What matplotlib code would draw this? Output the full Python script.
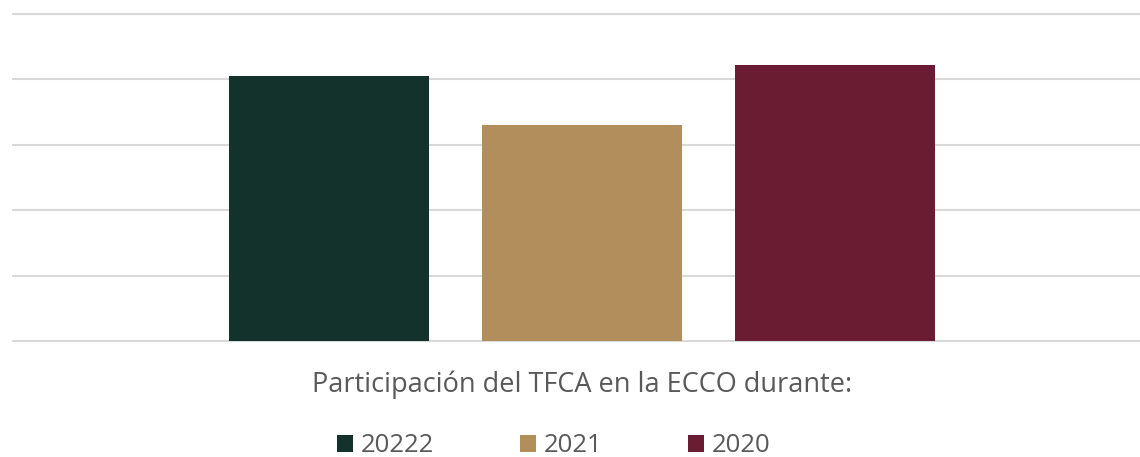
import matplotlib.pyplot as plt

# Datos de la gráfica (en unidades de la cuadrícula)
series = ['20222', '2021', '2020']
valores = [4.05, 3.30, 4.22]
colores = ['#13322b', '#b38e5d', '#691c32']
titulo = 'Participación del TFCA en la ECCO durante:'

W, H = 1140, 457
fig = plt.figure(figsize=(W / 100, H / 100), dpi=100)
plt.rcParams['font.family'] = ['Open Sans', 'DejaVu Sans']

# ejes: de x=12 a x=1140 px, de y=10 a y=345 px
ax = fig.add_axes([12 / W, 1 - 345 / H, (1140 - 12) / W, 335 / H])
px = 65.4  # px por unidad
ax.set_ylim(-4 / px, 5 + 4 / px)
ax.set_xlim(-317 / 253, (1140 - 329) / 253)

barras = []
for i, (s, v, c) in enumerate(zip(series, valores, colores)):
    b = ax.bar(i, v, width=200 / 253, color=c, label=s, zorder=3)
    barras.append(b)

ax.set_yticks(range(0, 6))
ax.grid(axis='y', color='#d9d9d9', linewidth=1.5, zorder=0)
ax.tick_params(left=False, bottom=False, labelleft=False, labelbottom=False)
for sp in ax.spines.values():
    sp.set_visible(False)

fig.text(582 / W, 1 - 385 / H, titulo, ha='center', va='center',
         fontsize=19.5, color='#595959')

fig.legend(handles=barras, labels=series, loc='center', ncol=3,
           bbox_to_anchor=(554 / W, 1 - 446 / H), frameon=False,
           fontsize=18.5, labelcolor='#595959', handlelength=0.6,
           handleheight=0.6, handletextpad=0.32, columnspacing=3.35)

fig.savefig('out.png', dpi=100)
